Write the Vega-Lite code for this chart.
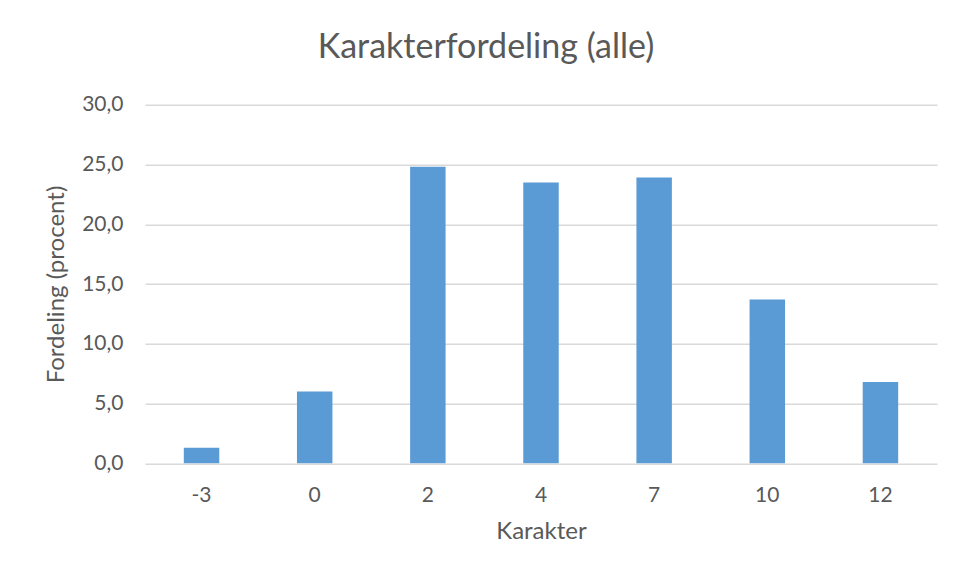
{
  "$schema": "https://vega.github.io/schema/vega-lite/v6.json",
  "width": 792,
  "height": 358.6,
  "autosize": {"type": "none"},
  "padding": {"left": 145, "top": 104.7, "right": 17, "bottom": 115.7},
  "background": "white",
  "title": {
    "text": "Karakterfordeling (alle)",
    "font": "Lato",
    "fontSize": 34,
    "fontWeight": "normal",
    "color": "#595959",
    "anchor": "middle",
    "dx": -55,
    "baseline": "alphabetic",
    "offset": 2
  },
  "data": {
    "values": [
      {"Karakter": "-3", "Fordeling": 1.3},
      {"Karakter": "0", "Fordeling": 6.0},
      {"Karakter": "2", "Fordeling": 24.8},
      {"Karakter": "4", "Fordeling": 23.5},
      {"Karakter": "7", "Fordeling": 23.9},
      {"Karakter": "10", "Fordeling": 13.7},
      {"Karakter": "12", "Fordeling": 6.8}
    ]
  },
  "mark": {"type": "bar", "color": "#5B9BD5"},
  "encoding": {
    "x": {
      "field": "Karakter",
      "type": "ordinal",
      "sort": null,
      "scale": {"paddingInner": 0.6865, "paddingOuter": 0.343},
      "axis": {
        "title": "Karakter",
        "labelAngle": 0,
        "ticks": false,
        "domain": false,
        "labelPadding": 21,
        "titlePadding": 14
      }
    },
    "y": {
      "field": "Fordeling",
      "type": "quantitative",
      "scale": {"domain": [0, 30], "nice": false},
      "axis": {
        "title": "Fordeling (procent)",
        "values": [0, 5, 10, 15, 20, 25, 30],
        "labelExpr": "replace(format(datum.value, '.1f'), '.', ',')",
        "ticks": false,
        "domain": false,
        "labelPadding": 22,
        "titlePadding": 13,
        "grid": true
      }
    }
  },
  "config": {
    "view": {"stroke": null},
    "axis": {
      "labelFont": "Lato",
      "labelFontSize": 21,
      "labelColor": "#595959",
      "titleFont": "Lato",
      "titleFontSize": 24,
      "titleFontWeight": "normal",
      "titleColor": "#595959",
      "gridColor": "#d9d9d9",
      "gridWidth": 1.4
    },
    "axisX": {"grid": false}
  }
}
